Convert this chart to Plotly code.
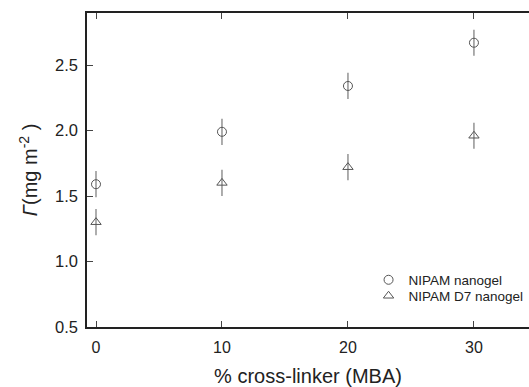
import plotly.graph_objects as go

crosslinker = [0, 10, 20, 30]
nipam = [1.59, 1.99, 2.34, 2.67]
nipam_err = [0.10, 0.10, 0.10, 0.10]
nipam_d7 = [1.30, 1.60, 1.72, 1.96]
nipam_d7_err = [0.10, 0.10, 0.10, 0.10]
x_ticks = [0, 10, 20, 30]
y_ticks = [0.5, 1.0, 1.5, 2.0, 2.5]
y_tick_text = ["0.5", "1.0", "1.5", "2.0", "2.5"]

grey = "#555555"
fig = go.Figure()
fig.add_trace(go.Scatter(
    x=crosslinker, y=nipam, mode="markers", name="NIPAM nanogel", legend="legend",
    marker=dict(symbol="circle-open", size=9, color=grey, line=dict(width=1, color=grey)),
    error_y=dict(type="data", array=nipam_err, width=0, thickness=1.2, color="#777777"),
))
fig.add_trace(go.Scatter(
    x=crosslinker, y=nipam_d7, mode="markers", name="NIPAM D7 nanogel", legend="legend2",
    marker=dict(symbol="triangle-up-open", size=9, color=grey, line=dict(width=1, color=grey)),
    error_y=dict(type="data", array=nipam_d7_err, width=0, thickness=1.2, color="#777777"),
))

leg_common = dict(xanchor="left", yanchor="middle", font=dict(size=13.5, color="#222222"),
                  bgcolor="rgba(0,0,0,0)", itemwidth=30, borderwidth=0)
fig.update_layout(
    width=529, height=387,
    margin=dict(l=87, r=0, t=13, b=60, autoexpand=False),
    paper_bgcolor="white", plot_bgcolor="white",
    font=dict(family="Liberation Sans, Arial, sans-serif", size=16, color="#222222"),
    showlegend=True,
    legend=dict(x=0.637, y=(327 - 280) / 314, **leg_common),
    legend2=dict(x=0.637, y=(327 - 296) / 314, **leg_common),
)
fig.update_xaxes(
    range=[-0.714, 34.37], tickvals=x_ticks, ticks="inside", ticklen=6,
    tickcolor="#444444", showline=True, linecolor="#222222", linewidth=1.5,
    mirror="ticks", showgrid=False, zeroline=False, automargin=False,
    tickfont=dict(size=16), ticklabelstandoff=5,
    title=dict(text="% cross-linker (MBA)", font=dict(size=20), standoff=14),
)
fig.update_yaxes(
    range=[0.5, 2.897], tickvals=y_ticks, ticktext=y_tick_text, ticks="inside", ticklen=6,
    tickcolor="#444444", showline=True, linecolor="#222222", linewidth=1.5,
    mirror=False, showgrid=False, zeroline=False, automargin=False,
    tickfont=dict(size=16.5), ticklabelstandoff=4,
    title=dict(text="<i>Γ</i>(mg m<sup>-2</sup> )", font=dict(size=20), standoff=12),
)
fig.write_html("out.html", config={"displayModeBar": False},
               post_script="document.body.style.margin='0';document.body.style.overflow='hidden';")
